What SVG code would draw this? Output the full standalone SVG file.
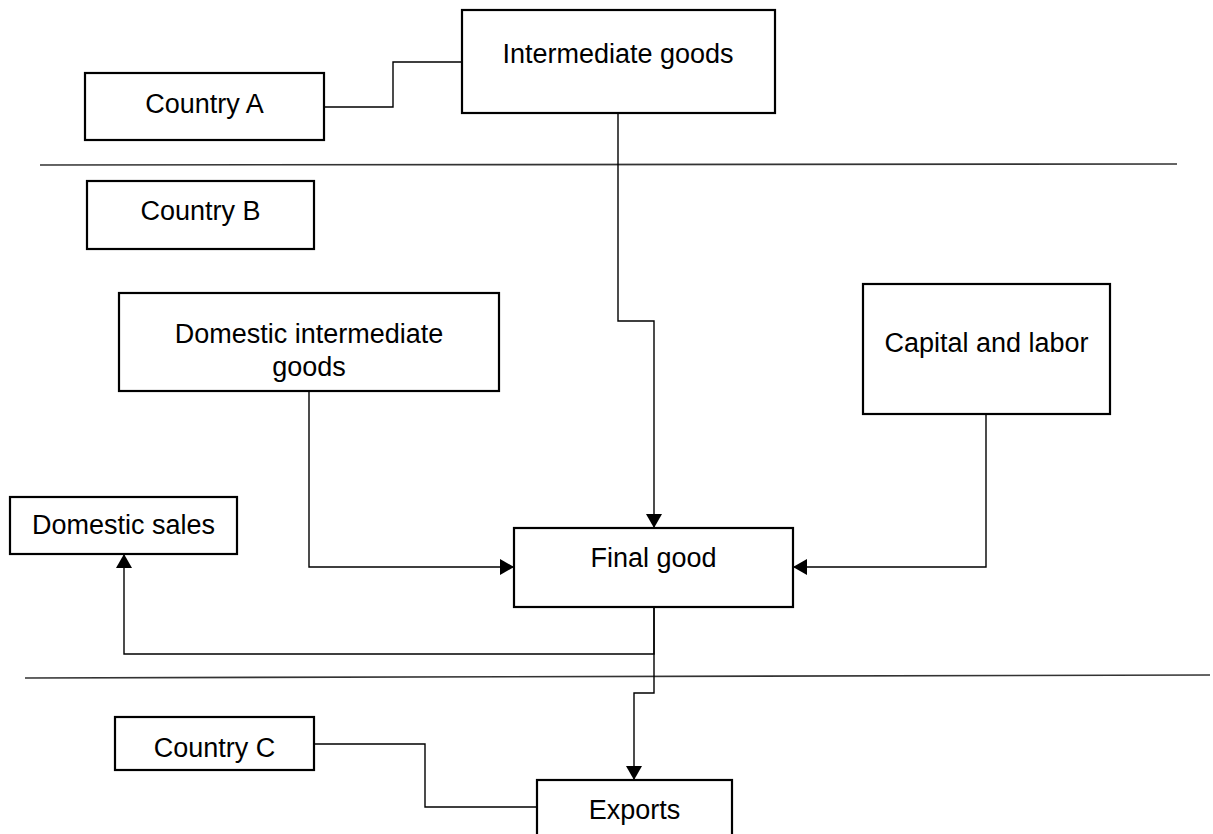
<svg xmlns="http://www.w3.org/2000/svg" width="1213" height="834" viewBox="0 0 1213 834">
<style>
.box{fill:#fff;stroke:#000;stroke-width:2.2}
.lbl{font-family:"Liberation Sans",Arial,sans-serif;font-size:27px;fill:#000;text-anchor:middle}
.con{fill:none;stroke:#000;stroke-width:1.4}
.sep{stroke:#333;stroke-width:1.6}
</style>
<defs>
<marker id="arr" markerUnits="userSpaceOnUse" markerWidth="16" markerHeight="16" viewBox="0 0 14 16" refX="14" refY="8" orient="auto">
<path d="M0,0 L14,8 L0,16 Z" fill="#000"/>
</marker>
</defs>
<g id="separators">
<line class="sep" x1="40" y1="165" x2="1177" y2="164"/>
<line class="sep" x1="25" y1="678" x2="1210" y2="675"/>
</g>
<g id="connectors">
<path class="con" d="M324,107 H393 V62 H462"/>
<path class="con" d="M618,113 V321 H654 V528" marker-end="url(#arr)"/>
<path class="con" d="M309,391 V567 H514" marker-end="url(#arr)"/>
<path class="con" d="M986,414 V567 H793" marker-end="url(#arr)"/>
<path class="con" d="M654,607 V654 H124 V554" marker-end="url(#arr)"/>
<path class="con" d="M654,607 V693 H634 V780" marker-end="url(#arr)"/>
<path class="con" d="M314,744 H425 V807 H537"/>
</g>
<g id="country-a">
<rect class="box" x="85" y="73" width="239" height="67"/>
<text class="lbl" x="204.5" y="113">Country A</text>
</g>
<g id="intermediate-goods">
<rect class="box" x="462" y="10" width="313" height="103"/>
<text class="lbl" x="618" y="63">Intermediate goods</text>
</g>
<g id="country-b">
<rect class="box" x="87" y="181" width="227" height="68"/>
<text class="lbl" x="200.5" y="220">Country B</text>
</g>
<g id="domestic-intermediate-goods">
<rect class="box" x="119" y="293" width="380" height="98"/>
<text class="lbl" x="309" y="343">Domestic intermediate</text>
<text class="lbl" x="309" y="376">goods</text>
</g>
<g id="capital-and-labor">
<rect class="box" x="863" y="284" width="247" height="130"/>
<text class="lbl" x="986.5" y="352">Capital and labor</text>
</g>
<g id="domestic-sales">
<rect class="box" x="10" y="497" width="227" height="57"/>
<text class="lbl" x="123.5" y="534">Domestic sales</text>
</g>
<g id="final-good">
<rect class="box" x="514" y="528" width="279" height="79"/>
<text class="lbl" x="653.5" y="567">Final good</text>
</g>
<g id="country-c">
<rect class="box" x="115" y="717" width="199" height="53"/>
<text class="lbl" x="214.5" y="757">Country C</text>
</g>
<g id="exports">
<rect class="box" x="537" y="780" width="195" height="60"/>
<text class="lbl" x="634.5" y="819">Exports</text>
</g>
</svg>
